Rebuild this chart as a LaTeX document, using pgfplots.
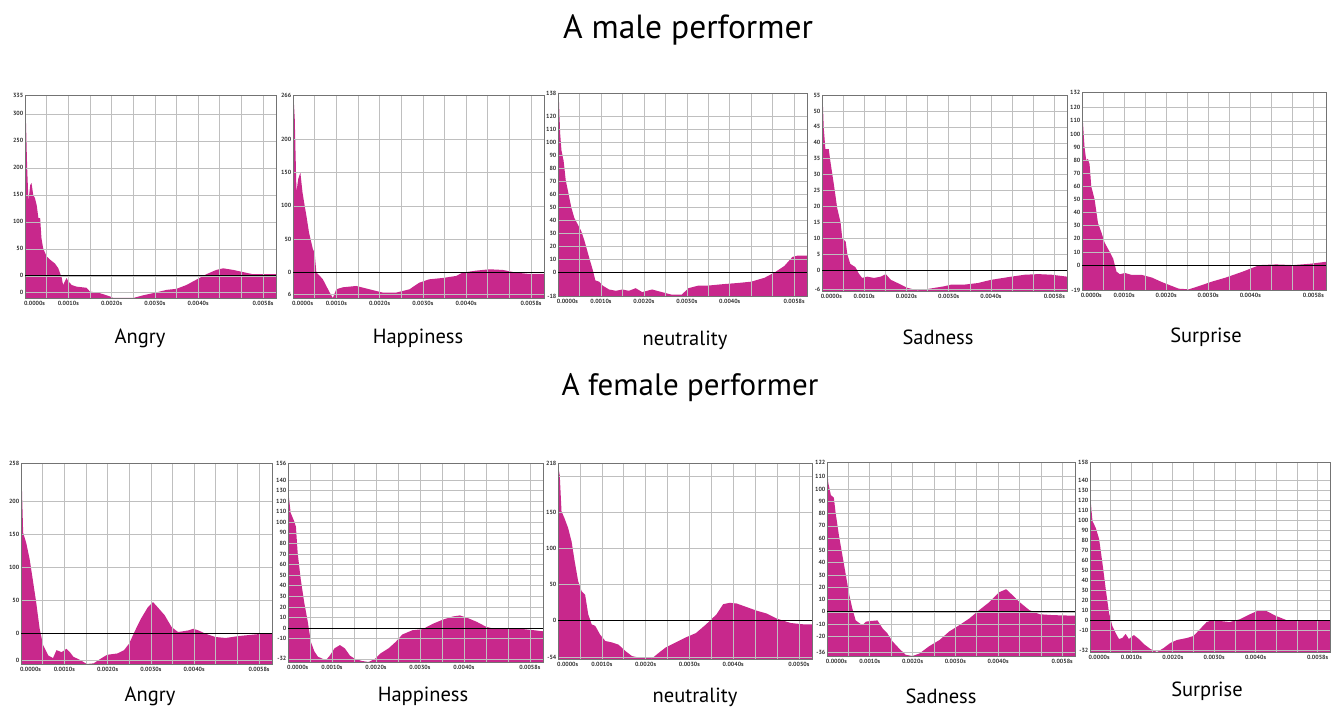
\documentclass[border=0pt]{standalone}
\usepackage{pgfplots}
\pgfplotsset{compat=1.18}
\usepackage{fontspec}
\setmainfont{PT Sans}
\definecolor{wave}{RGB}{200,40,140}
\pgfplotsset{
  panel/.style={
    scale only axis, axis on top,
    xmin=0, xmax=5.8,
    axis line style={draw=black!55},
    major tick length=0pt, minor tick length=0pt,
    xtick={0.22,1,2,3,4,5.5},
    xticklabels={0.0000s,0.0010s,0.0020s,0.0030s,0.0040s,0.0058s},
    minor xtick={0.5,1,...,5.5},
    xminorgrids=true, xmajorgrids=false, ymajorgrids=true,
    major grid style={draw=black!25, line width=0.6pt},
    minor grid style={draw=black!25, line width=0.6pt},
    tick label style={font=\fontsize{6}{7}\selectfont\bfseries, text=black!80},
    yticklabel style={inner xsep=1.5pt},
    extra y ticks={0}, extra y tick labels={},
    extra y tick style={grid=major, major grid style={draw=black, line width=0.9pt}},
  },
  zero/.style={black, line width=0.8pt},
}
\begin{document}
\begin{tikzpicture}[x=1pt,y=1pt]
\useasboundingbox (0,0) rectangle (1335,713);
\node[font=\fontsize{33.5}{38}\selectfont] at (688,683) {A male performer};
\node[font=\fontsize{31}{36}\selectfont] at (690,325) {A female performer};
\begin{scope}[font=\fontsize{20.5}{24}\selectfont]
\node at (140,375) {Angry};
\node at (418,375) {Happiness};
\node at (685,373) {neutrality};
\node at (938,376) {Sadness};
\node at (1206,376) {Surprise};
\node at (150,17) {Angry};
\node at (423,17) {Happiness};
\node at (695,16) {neutrality};
\node at (941,17) {Sadness};
\node at (1207,22) {Surprise};
\end{scope}

% ---- male Angry
\begin{axis}[panel, at={(25pt,415pt)}, anchor=south west, width=251pt, height=203pt,
  ymin=-41, ymax=335, ytick={-30,0,50,100,150,200,250,300,335},
  yticklabels={0,0,50,100,150,200,250,300,335}]
\addplot[draw=none, fill=wave] coordinates {(0,-41) (0,300) (0.02,292) (0.05,200) (0.08,138) (0.12,168) (0.15,172) (0.19,150) (0.23,144) (0.27,131) (0.31,107) (0.35,107) (0.38,70) (0.42,51) (0.5,36) (0.58,30) (0.69,23) (0.77,14) (0.85,-4) (0.88,-17) (0.96,-4) (1.0,-10) (1.08,-17) (1.19,-20) (1.42,-22) (1.5,-29) (1.73,-32) (1.96,-38) (2.04,-41) (2.5,-41) (2.73,-36) (2.96,-32) (3.27,-26) (3.5,-24) (3.73,-17) (3.96,-7) (4.19,3) (4.42,11) (4.58,14) (4.81,11) (5.04,7) (5.27,3) (5.8,3) (5.8,-41)} -- cycle;
\end{axis}

% ---- male Happiness
\begin{axis}[panel, at={(293pt,415pt)}, anchor=south west, width=251pt, height=203pt,
  ymin=-38, ymax=266, ytick={-33,0,50,100,150,200,266},
  yticklabels={6,0,50,100,150,200,266}]
\addplot[draw=none, fill=wave] coordinates {(0,-38) (0,250) (0.015,261) (0.04,231) (0.08,121) (0.12,140) (0.17,150) (0.22,120) (0.27,100) (0.31,85) (0.37,60) (0.46,35) (0.5,30) (0.54,0) (0.62,-5) (0.69,-10) (0.85,-30) (0.92,-38) (1.0,-25) (1.15,-22) (1.46,-20) (1.77,-25) (2.08,-30) (2.38,-30) (2.69,-25) (2.92,-15) (3.15,-10) (3.46,-8) (3.77,-5) (3.92,0) (4.23,3) (4.54,5) (4.85,4) (5.15,0) (5.46,-2) (5.8,-2) (5.8,-38)} -- cycle;
\end{axis}

% ---- male neutrality
\begin{axis}[panel, at={(558pt,417pt)}, anchor=south west, width=249pt, height=203pt,
  ymin=-18, ymax=138, ytick={-18,0,10,20,30,40,50,60,70,80,90,100,110,120,138},
  yticklabels={-18,0,10,20,30,40,50,60,70,80,90,100,110,120,138}]
\addplot[draw=none, fill=wave] coordinates {(0,-18) (0,138) (0.015,138) (0.05,107) (0.08,94) (0.13,86) (0.18,71) (0.23,63) (0.31,50) (0.38,42) (0.46,37) (0.54,32) (0.62,24) (0.73,11) (0.81,2) (0.87,-6) (0.96,-7) (1.04,-10) (1.19,-13) (1.35,-14) (1.5,-13) (1.65,-14) (1.81,-12) (1.96,-15) (2.19,-13) (2.42,-15) (2.65,-17) (2.88,-17) (3.04,-12) (3.27,-10) (3.5,-10) (3.81,-9) (4.19,-8) (4.5,-7) (4.81,-4) (5.04,0) (5.27,5) (5.46,12) (5.58,13) (5.8,13) (5.8,-18)} -- cycle;
\end{axis}

% ---- male Sadness
\begin{axis}[panel, at={(822pt,422pt)}, anchor=south west, width=245pt, height=196pt,
  ymin=-6.5, ymax=55, ytick={-6,0,5,10,15,20,25,30,35,40,45,50,55},
  yticklabels={-6,0,5,10,15,20,25,30,35,40,45,50,55}]
\addplot[draw=none, fill=wave] coordinates {(0,-6.5) (0,55) (0.016,54) (0.04,45) (0.08,38) (0.16,38) (0.2,34) (0.28,27) (0.36,19.5) (0.44,15) (0.48,10) (0.56,9) (0.6,5) (0.67,2) (0.79,1) (0.87,-1) (0.95,-2.4) (1.07,-2) (1.23,-2.4) (1.39,-2) (1.51,-1.2) (1.63,-3) (1.79,-4) (2.02,-5.5) (2.26,-6.3) (2.58,-5.7) (2.9,-5) (3.06,-4.5) (3.37,-4.5) (3.69,-4) (4.0,-3) (4.48,-2) (4.8,-1.4) (5.12,-1.2) (5.44,-1.4) (5.8,-2) (5.8,-6.5)} -- cycle;
\end{axis}

% ---- male Surprise
\begin{axis}[panel, at={(1082pt,423pt)}, anchor=south west, width=244pt, height=198pt,
  ymin=-19, ymax=132, ytick={-19,0,10,20,30,40,50,60,70,80,90,100,110,120,132},
  yticklabels={-19,0,10,20,30,40,50,60,70,80,90,100,110,120,132}]
\addplot[draw=none, fill=wave] coordinates {(0,-19) (0,125) (0.02,110) (0.06,90) (0.1,80) (0.14,81) (0.18,77) (0.22,60) (0.3,50) (0.38,32) (0.46,25) (0.54,17) (0.66,10) (0.74,5) (0.82,-5) (0.9,-7) (1.02,-6) (1.18,-7.5) (1.42,-7.5) (1.66,-9.5) (1.9,-13) (2.14,-16) (2.3,-18) (2.54,-18.5) (2.78,-16) (3.1,-12.5) (3.42,-9.5) (3.82,-5) (4.22,0) (4.62,0.5) (5.02,0) (5.42,1) (5.8,2.5) (5.8,-19)} -- cycle;
\end{axis}

% ---- female Angry
\begin{axis}[panel, at={(21pt,49pt)}, anchor=south west, width=251pt, height=201pt,
  ymin=-47, ymax=258, ytick={-42,0,50,100,150,200,258},
  yticklabels={0,0,50,100,150,200,258}]
\addplot[draw=none, fill=wave] coordinates {(0,-47) (0,252) (0.02,222) (0.05,152) (0.12,137) (0.2,112) (0.27,82) (0.35,47) (0.43,7) (0.51,-18) (0.63,-34) (0.74,-38) (0.82,-26) (0.94,-29) (1.05,-24) (1.13,-29) (1.21,-36) (1.37,-41) (1.52,-47) (1.68,-46) (1.84,-39) (1.99,-33) (2.23,-31) (2.38,-26) (2.5,-16) (2.62,1.5) (2.77,21.6) (2.93,39) (3.05,47) (3.16,39) (3.32,27) (3.48,9) (3.63,1.5) (3.87,4) (3.98,6.5) (4.1,4) (4.26,-1) (4.49,-6) (4.73,-7.5) (5.04,-4.5) (5.43,-2) (5.8,0) (5.8,-47)} -- cycle;
\end{axis}

% ---- female Happiness
\begin{axis}[panel, at={(288pt,51pt)}, anchor=south west, width=255pt, height=199pt,
  ymin=-32, ymax=156, ytick={-29,-10,0,10,20,30,40,50,60,70,80,90,100,110,120,130,140,156},
  yticklabels={-32,-10,0,10,20,30,40,50,60,70,80,90,100,110,120,130,140,156}]
\addplot[draw=none, fill=wave] coordinates {(0,-32) (0,152) (0.02,124) (0.06,109) (0.14,101) (0.18,96) (0.22,71) (0.29,46) (0.37,24) (0.45,6) (0.52,-13) (0.6,-22) (0.68,-27) (0.79,-29) (0.87,-30) (0.95,-26) (1.06,-19) (1.18,-16) (1.29,-19) (1.41,-26) (1.52,-29) (1.68,-31) (1.83,-32) (1.98,-29) (2.1,-24) (2.29,-19) (2.45,-13) (2.6,-6) (2.83,-2) (3.06,-1) (3.29,4) (3.52,8) (3.75,11) (3.91,12) (4.06,10) (4.29,6) (4.52,1) (4.75,-1) (5.06,-1) (5.37,-1) (5.6,-2) (5.8,-3) (5.8,-32)} -- cycle;
\end{axis}

% ---- female neutrality
\begin{axis}[panel, at={(558pt,54pt)}, anchor=south west, width=254pt, height=196pt,
  ymin=-54, ymax=218, ytick={-52,0,50,100,150,200,218},
  yticklabels={-54,0,50,100,150,,218},
  xticklabels={0.0000s,0.0010s,0.0020s,0.0030s,0.0040s,0.0050s}]
\addplot[draw=none, fill=wave] coordinates {(0,-54) (0,215) (0.04,201) (0.08,151) (0.15,141) (0.23,128) (0.31,109) (0.38,82) (0.46,54) (0.54,40) (0.62,35) (0.69,8) (0.77,-6) (0.85,-8) (0.96,-20) (1.08,-29) (1.23,-31) (1.38,-34) (1.54,-43) (1.69,-50) (1.85,-52) (2.15,-53) (2.31,-45) (2.46,-38) (2.69,-31) (2.92,-24) (3.15,-18) (3.38,-6) (3.62,8) (3.77,22) (3.92,24) (4.08,23) (4.31,18) (4.54,13) (4.77,9) (5.0,2) (5.31,-4) (5.62,-6) (5.8,-6) (5.8,-54)} -- cycle;
\end{axis}

% ---- female Sadness
\begin{axis}[panel, at={(827pt,57pt)}, anchor=south west, width=248pt, height=194pt,
  ymin=-36, ymax=122, ytick={-33,-20,-10,0,10,20,30,40,50,60,70,80,90,100,110,122},
  yticklabels={-36,-20,-10,0,10,20,30,40,50,60,70,80,90,100,110,122}]
\addplot[draw=none, fill=wave] coordinates {(0,-36) (0,119) (0.03,105) (0.09,95) (0.16,93) (0.2,81) (0.28,62) (0.36,46) (0.44,30) (0.52,14) (0.59,3) (0.67,-7) (0.75,-9) (0.83,-11) (0.91,-8) (1.02,-7.5) (1.18,-7) (1.3,-13.5) (1.41,-17.5) (1.53,-24) (1.69,-30) (1.84,-35) (2.0,-36) (2.16,-34) (2.39,-28) (2.63,-23) (2.86,-16) (3.09,-11) (3.33,-5.4) (3.56,1.4) (3.8,8) (4.03,16) (4.19,18.4) (4.34,13.5) (4.5,8) (4.73,1.4) (4.97,-2) (5.28,-2.7) (5.8,-3.2) (5.8,-36)} -- cycle;
\end{axis}

% ---- female Surprise
\begin{axis}[panel, at={(1090pt,61pt)}, anchor=south west, width=240pt, height=190pt,
  ymin=-32, ymax=158, ytick={-30,-10,0,10,20,30,40,50,60,70,80,90,100,110,120,130,140,158},
  yticklabels={-32,-10,0,10,20,30,40,50,60,70,80,90,100,110,120,130,140,158}]
\addplot[draw=none, fill=wave] coordinates {(0,-32) (0,154) (0.02,117) (0.06,99) (0.14,92) (0.22,81) (0.3,57) (0.38,31) (0.46,7) (0.54,-6) (0.62,-13) (0.7,-19) (0.78,-18) (0.86,-14) (0.94,-19) (1.06,-15) (1.18,-19) (1.3,-24) (1.46,-29) (1.62,-32) (1.78,-28) (1.94,-23) (2.1,-20) (2.34,-18) (2.5,-16) (2.66,-9) (2.82,-2) (2.98,0) (3.14,-1) (3.38,-2) (3.62,0.7) (3.86,5.7) (4.1,10) (4.26,9) (4.5,4) (4.74,0) (5.06,-1) (5.38,-1) (5.8,-1) (5.8,-32)} -- cycle;
\end{axis}
\end{tikzpicture}
\end{document}
